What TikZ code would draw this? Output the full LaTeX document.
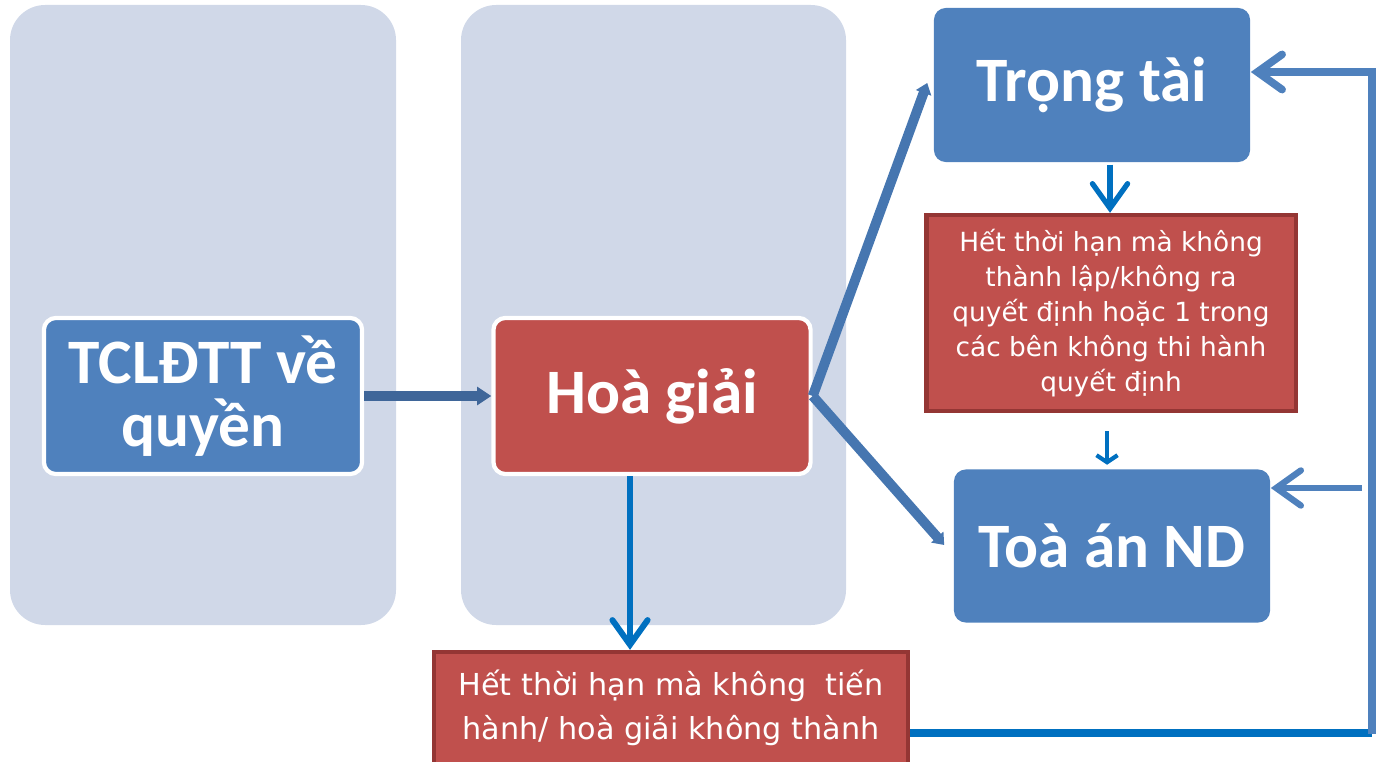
\documentclass[tikz,border=0pt]{standalone}
\usepackage{fontspec}
\setmainfont{Carlito}
\newfontfamily\smallfont{DejaVu Sans}
\usetikzlibrary{arrows.meta,calc}
\definecolor{panelgray}{HTML}{D0D8E8}
\definecolor{boxblue}{HTML}{4F81BD}
\definecolor{boxred}{HTML}{C0504D}
\definecolor{darkred}{HTML}{943634}
\definecolor{arrowdark}{HTML}{3F6699}
\definecolor{arrowmid}{HTML}{4676B0}
\definecolor{arrowbright}{HTML}{0070C0}
\tikzset{
  bigbox/.style={rounded corners=3.4pt,text=white,align=center,
    font=\fontsize{18pt}{18pt}\selectfont\bfseries,inner sep=0pt},
  bluebox/.style={bigbox,fill=boxblue},
  redbox/.style={bigbox,fill=boxred},
  framed/.style={draw=white,line width=1.2pt},
  notebox/.style={fill=boxred,draw=darkred,line width=1.2pt,text=white,
    align=center,inner sep=0pt},
  vbarb/.style={-{Straight Barb[length=7pt,width=10pt,line cap=round]}},
}
\begin{document}
\begin{tikzpicture}[x=0.01cm,y=-0.01cm]
\useasboundingbox (0,0) rectangle (1383,761);
\fill[panelgray,rounded corners=10pt] (10,5) rectangle (396,625);
\fill[panelgray,rounded corners=10pt] (461,5) rectangle (846,625);

\node[bluebox,framed,minimum width=3.18cm,minimum height=1.56cm] (tcl) at (203,396) {TCLĐTT về\\quyền};
\node[redbox,framed,minimum width=3.17cm,minimum height=1.56cm] (hoagiai) at (652,396) {Hoà giải};
\node[bluebox,minimum width=3.16cm,minimum height=1.54cm] (trongtai) at (1092,85) {Trọng tài};
\node[bluebox,minimum width=3.16cm,minimum height=1.53cm] (toaan) at (1112,546) {Toà án ND};
\node[notebox,minimum width=3.69cm,minimum height=1.96cm,
  font=\smallfont\fontsize{7.5pt}{10pt}\selectfont] (het1) at (1111,313)
  {\raisebox{0pt}[\height][\depth]{}Hết thời hạn mà không\\thành lập/không ra\\quyết định hoặc 1 trong\\các bên không thi hành\\quyết định};
\node[notebox,minimum width=4.74cm,minimum height=1.12cm,
  font=\smallfont\fontsize{8.6pt}{12.5pt}\selectfont] (het2) at (671,708)
  {Hết thời hạn mà không\ \ tiến\\hành/ hoà giải không thành};

\coordinate (rc1) at (1372,733);
\coordinate (rc2) at (1372,72);
\coordinate (rstub) at (1362,488);

\draw[arrowdark,line width=2.6pt,-{Triangle[length=4pt,width=5pt]}] (tcl.east) -- (hoagiai.west);
\draw[arrowmid,line width=2.8pt,-{Triangle[length=3pt,width=4.5pt]}] (hoagiai.east) -- ($(trongtai.west)+(-6,-2)$);
\draw[arrowmid,line width=2.8pt,-{Triangle[length=3pt,width=4.5pt]}] (hoagiai.east) -- ($(toaan.west)+(-9,-1)$);
\draw[arrowbright,line width=1.7pt,vbarb] (hoagiai.south -| 630,0) -- (het2.north -| 630,0);
\draw[arrowbright,line width=1.5pt,vbarb] ($(trongtai.south)+(18,2)$) -- ($(het1.north)+(-1,0)$);
\draw[arrowbright,line width=1.2pt,-{Straight Barb[length=2pt,width=6pt]}] ($(het1.south)+(-4,18)$) -- ($(toaan.north)+(-5,-4)$);
\draw[arrowbright,line width=2pt] (het2.east |- rc1) -- (rc1);
\draw[boxblue,line width=2.2pt,vbarb] ($(rc1)+(0,1)$) -- (rc2) -- (trongtai.east |- rc2);
\draw[boxblue,line width=1.8pt,vbarb] (rstub) -- (toaan.east |- rstub);
\end{tikzpicture}
\end{document}
